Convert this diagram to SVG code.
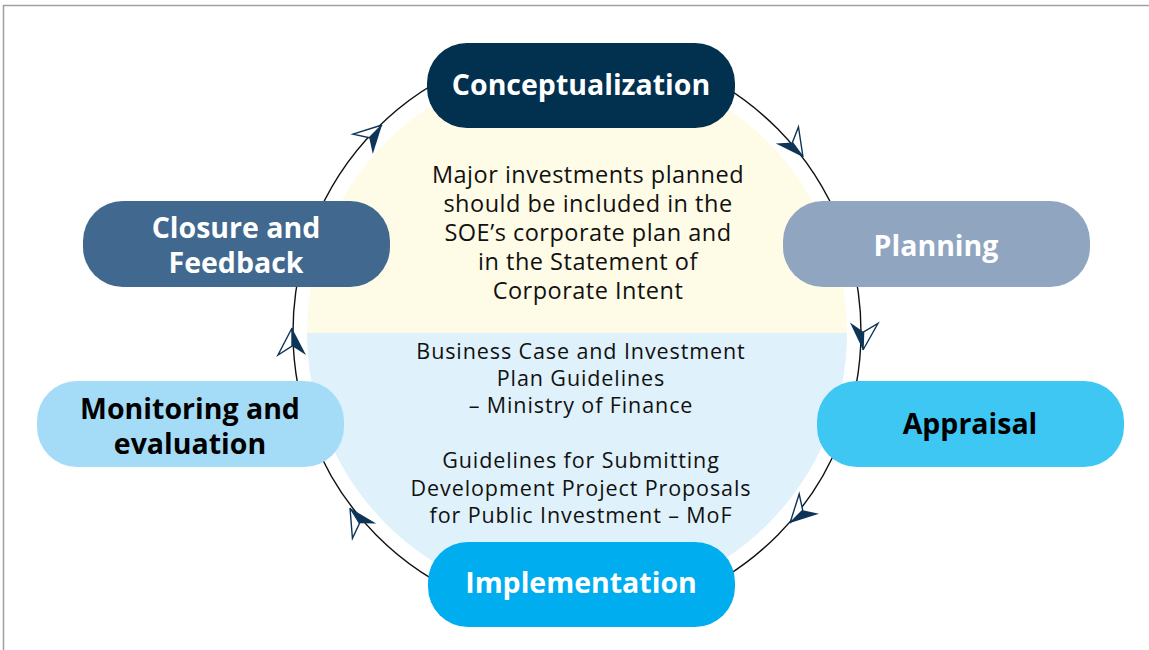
<svg xmlns="http://www.w3.org/2000/svg" width="1149" height="650" viewBox="0 0 1149 650">
<style>
.node-label{font-family:"Open Sans","Noto Sans",sans-serif;font-weight:700;font-size:28.5px;text-anchor:middle}
.body{font-family:"Open Sans","Noto Sans",sans-serif;font-size:23.5px;letter-spacing:0.5px;text-anchor:middle;fill:#111}
.body2{font-family:"Open Sans","Noto Sans",sans-serif;font-size:21.5px;letter-spacing:0.9px;text-anchor:middle;fill:#111}
.w{fill:#ffffff}
.k{fill:#000000}
</style>
<defs>
<g id="arw">
<polygon points="0,0 -18,0 -27,14" fill="#0c3558"/>
<polygon points="0,0 -27,-14 -18,0" fill="#ffffff" stroke="#0c3558" stroke-width="1.4"/>
</g>
</defs>
<rect x="0" y="0" width="1149" height="650" fill="#ffffff"/>
<g id="frame" stroke="#a0a0a0" stroke-width="1.5" fill="none">
<line x1="3" y1="5.5" x2="1149" y2="5.5"/>
<line x1="3.5" y1="5" x2="3.5" y2="650"/>
</g>
<g id="center-panel">
<path d="M307,333 A270,270 0 0 1 847,333 Z" fill="#fefbe6"/>
<path d="M307,333 A270,270 0 0 0 847,333 Z" fill="#dff1fb"/>
<text class="body" x="588" y="183">Major investments planned</text>
<text class="body" x="588" y="212">should be included in the</text>
<text class="body" x="588" y="241">SOE’s corporate plan and</text>
<text class="body" x="588" y="270">in the Statement of</text>
<text class="body" x="588" y="299">Corporate Intent</text>
<text class="body2" x="581" y="359">Business Case and Investment</text>
<text class="body2" x="581" y="386">Plan Guidelines</text>
<text class="body2" x="581" y="413">– Ministry of Finance</text>
<text class="body2" x="581" y="468">Guidelines for Submitting</text>
<text class="body2" x="581" y="496">Development Project Proposals</text>
<text class="body2" x="581" y="523">for Public Investment – MoF</text>
</g>
<g id="connectors">
<ellipse cx="577" cy="332" rx="284" ry="287" fill="none" stroke="#111" stroke-width="1.4"/>
<use href="#arw" transform="translate(382,125) rotate(-45)"/>
<use href="#arw" transform="translate(803,157) rotate(54)"/>
<use href="#arw" transform="translate(863,350) rotate(92)"/>
<use href="#arw" transform="translate(790,523) rotate(135) scale(1,-1)"/>
<use href="#arw" transform="translate(350,508) rotate(-122)"/>
<use href="#arw" transform="translate(292,328) rotate(-90)"/>
</g>
<g id="conceptualization">
<rect x="427" y="43" width="308" height="85" rx="40" fill="#02304f"/>
<text class="node-label w" x="581" y="95">Conceptualization</text>
</g>
<g id="planning">
<rect x="783" y="201" width="307" height="86" rx="40" fill="#8fa5c0"/>
<text class="node-label w" x="936" y="256">Planning</text>
</g>
<g id="appraisal">
<rect x="817" y="381" width="307" height="86" rx="40" fill="#3fc7f4"/>
<text class="node-label k" x="970" y="434">Appraisal</text>
</g>
<g id="implementation">
<rect x="428" y="542" width="307" height="85" rx="40" fill="#00adee"/>
<text class="node-label w" x="581" y="593">Implementation</text>
</g>
<g id="monitoring">
<rect x="37" y="381" width="307" height="86" rx="40" fill="#a4dcf7"/>
<text class="node-label k" x="190" y="419">Monitoring and</text>
<text class="node-label k" x="190" y="454">evaluation</text>
</g>
<g id="closure">
<rect x="83" y="201" width="307" height="86" rx="40" fill="#41688e"/>
<text class="node-label w" x="236" y="238">Closure and</text>
<text class="node-label w" x="236" y="273">Feedback</text>
</g>
</svg>
